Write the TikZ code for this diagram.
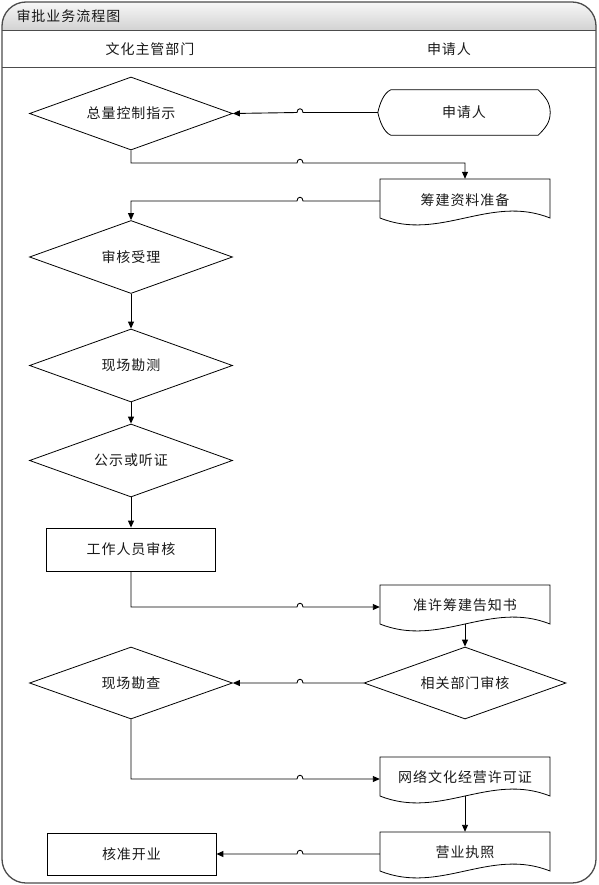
\documentclass[tikz,border=0pt]{standalone}
\usepackage{fontspec}
\setmainfont{Noto Sans CJK SC}[LetterSpace=7]
\usetikzlibrary{shapes.geometric,arrows.meta,calc}
\newcommand\docshape[1]{\draw[shp] ([shift={(-85,-22)}]#1.center) -- ([shift={(85,-22)}]#1.center) -- ([shift={(85,17)}]#1.center) .. controls +(-60,-24) and +(60,24) .. ([shift={(-85,17)}]#1.center) -- cycle;}
\begin{document}
\begin{tikzpicture}[x=1pt,y=-1pt,
  every node/.style={font=\fontsize{14}{16}\selectfont,text=black!90},
  dia/.style={diamond,draw,line width=0.8pt,shape aspect=2.78,minimum width=203pt,minimum height=73pt,inner sep=0pt},
  proc/.style={rectangle,draw,line width=0.8pt,minimum width=169pt,minimum height=43pt,inner sep=0pt},
  docbox/.style={rectangle,minimum width=170pt,minimum height=44pt,inner sep=0pt},
  termbox/.style={rectangle,minimum width=172pt,minimum height=45pt,inner sep=0pt},
  conn/.style={draw=black,line width=0.9pt,-{Triangle[length=7pt,width=6pt]}},
  shp/.style={draw=black,line width=0.8pt},
]
\useasboundingbox (0,0) rectangle (598,885);
% title band
\shade[top color=black!3,bottom color=black!18] (2,31) [rounded corners=24pt] -- (2,2) -- (596,2) [sharp corners] -- (596,31) -- cycle;
\draw[draw=black!70,line width=1.3pt,rounded corners=24pt] (2,2) rectangle (596,883);
\draw[draw=black!70,line width=1pt] (2,31) -- (596,31);
\draw[draw=black!70,line width=1pt] (2,68) -- (596,68);
\node[anchor=west] (ttl) at (13,16) {审批业务流程图};
\node (h1) at (150,49) {文化主管部门};
\node (h2) at (449,49) {申请人};
\coordinate (hx) at (300,0);

% nodes
\node[dia] (d1) at (131,113.5) {总量控制指示};
\node[termbox] (t1) at (464,112.5) {申请人};
\draw[shp] ([xshift=13pt]t1.north west) -- ([xshift=-12pt]t1.north east)
  .. controls +(7,7) and +(0,-10) .. (t1.east)
  .. controls +(0,10) and +(7,-7) .. ([xshift=-12pt]t1.south east)
  -- ([xshift=13pt]t1.south west)
  .. controls +(-7,-3) and +(2,9) .. (t1.west)
  .. controls +(2,-9) and +(-7,3) .. ([xshift=13pt]t1.north west) -- cycle;
\node[docbox] (p1) at (465,201) {\raisebox{2pt}{筹建资料准备}};
\docshape{p1}
\node[dia] (d2) at (131,257) {审核受理};
\node[dia] (d3) at (131,365.5) {现场勘测};
\node[dia] (d4) at (131,460.5) {公示或听证};
\node[proc] (w1) at (131,549.5) {工作人员审核};
\node[docbox] (p2) at (465,607) {\raisebox{4pt}{准许筹建告知书}};
\docshape{p2}
\node[dia,minimum width=202pt,minimum height=72pt] (d6) at (465,683) {相关部门审核};
\node[dia,minimum height=72pt] (d5) at (131,683) {现场勘查};
\node[docbox] (p3) at (465,779) {\raisebox{5pt}{网络文化经营许可证}};
\docshape{p3}
\node[docbox] (p4) at (465,854) {\raisebox{5pt}{营业执照}};
\docshape{p4}
\node[proc,minimum height=42pt] (w2) at (131.5,854) {核准开业};

% connectors
\coordinate (r1) at (0,163);
\draw[conn] (t1.west) -- ($(hx |- t1.west)+(3,0)$) .. controls +(0,-5) and +(0,-5) .. ($(hx |- t1.west)+(-3,0)$) -- (d1.east);
\draw[conn] (d1.south) -- (d1.south |- r1) -- ($(hx |- r1)+(-3,0)$) .. controls +(0,-5) and +(0,-5) .. ($(hx |- r1)+(3,0)$) -- (p1.north |- r1) -- (p1.north);
\draw[conn] (p1.west) -- ($(hx |- p1.west)+(3,0)$) .. controls +(0,-5) and +(0,-5) .. ($(hx |- p1.west)+(-3,0)$) -- (d2.north |- p1.west) -- (d2.north);
\draw[conn] (d2.south) -- (d3.north);
\draw[conn] (d3.south) -- (d4.north);
\draw[conn] (d4.south) -- (w1.north);
\draw[conn] (w1.south) -- (w1.south |- p2.west) -- ($(hx |- p2.west)+(-3,0)$) .. controls +(0,-5) and +(0,-5) .. ($(hx |- p2.west)+(3,0)$) -- (p2.west);
\draw[conn] ([yshift=5pt]p2.south) -- (d6.north);
\draw[conn] (d6.west) -- ($(hx |- d6.west)+(3,0)$) .. controls +(0,-5) and +(0,-5) .. ($(hx |- d6.west)+(-3,0)$) -- (d5.east);
\draw[conn] (d5.south) -- (d5.south |- p3.west) -- ($(hx |- p3.west)+(-3,0)$) .. controls +(0,-5) and +(0,-5) .. ($(hx |- p3.west)+(3,0)$) -- (p3.west);
\draw[conn] ([yshift=5pt]p3.south) -- (p4.north);
\draw[conn] (p4.west) -- ($(hx |- p4.west)+(3,0)$) .. controls +(0,-5) and +(0,-5) .. ($(hx |- p4.west)+(-3,0)$) -- (w2.east);
\end{tikzpicture}
\end{document}
